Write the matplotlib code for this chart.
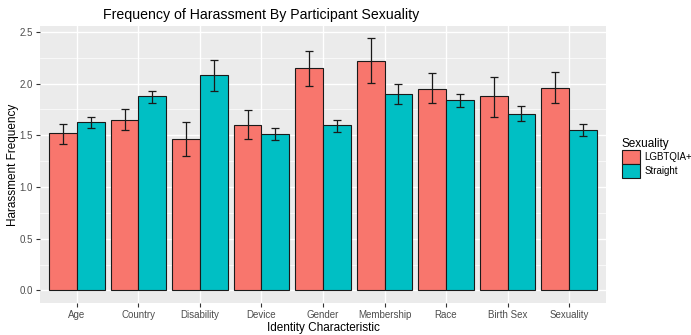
import matplotlib.pyplot as plt
import numpy as np

plt.rcParams['font.family'] = ['Liberation Sans', 'DejaVu Sans']

categories = ["Age", "Country", "Disability", "Device", "Gender",
              "Membership", "Race", "Birth Sex", "Sexuality"]
groups = ["LGBTQIA+", "Straight"]
colors = ["#F8766D", "#00BFC4"]

lgbt_mean = [1.52, 1.65, 1.46, 1.60, 2.15, 2.22, 1.95, 1.88, 1.96]
lgbt_lo = [1.415, 1.55, 1.30, 1.46, 1.98, 2.01, 1.81, 1.68, 1.81]
lgbt_hi = [1.61, 1.75, 1.63, 1.74, 2.32, 2.44, 2.10, 2.06, 2.11]

str_mean = [1.63, 1.88, 2.08, 1.51, 1.595, 1.90, 1.84, 1.71, 1.555]
str_lo = [1.57, 1.81, 1.93, 1.45, 1.53, 1.80, 1.77, 1.64, 1.49]
str_hi = [1.68, 1.93, 2.23, 1.57, 1.65, 2.00, 1.90, 1.78, 1.61]

W, H = 691, 335
fig = plt.figure(figsize=(W / 100, H / 100), dpi=100)
ax = fig.add_axes([40 / W, 1 - 303 / H, 566 / W, 277 / H])
ax.set_facecolor("#EBEBEB")

x = np.arange(1, len(categories) + 1)
w = 0.45
series = [(lgbt_mean, lgbt_lo, lgbt_hi), (str_mean, str_lo, str_hi)]
for i, (m, lo, hi) in enumerate(series):
    m = np.array(m)
    pos = x + (i - 0.5) * w
    ax.bar(pos, m, width=w, color=colors[i], edgecolor="#1a1a1a",
           linewidth=0.8, zorder=3, label=groups[i])
    yerr = [m - np.array(lo), np.array(hi) - m]
    ax.errorbar(pos, m, yerr=yerr, fmt="none", ecolor="#1a1a1a",
                elinewidth=0.9, capsize=2.8, capthick=0.9, zorder=4)

ax.set_xlim(0.4, 9.6)
ax.set_ylim(-0.122, 2.557)
ax.set_yticks([0, 0.5, 1.0, 1.5, 2.0, 2.5])
ax.set_yticklabels(["0.0", "0.5", "1.0", "1.5", "2.0", "2.5"])
ax.set_yticks([0.25, 0.75, 1.25, 1.75, 2.25], minor=True)
ax.set_xticks(x)
ax.set_xticklabels(categories)
ax.grid(which="major", color="white", linewidth=1.0, zorder=0)
ax.grid(which="minor", axis="y", color="white", linewidth=0.5, zorder=0)
ax.set_axisbelow(True)
for s in ax.spines.values():
    s.set_visible(False)
ax.tick_params(axis="both", which="major", colors="#333333", length=3,
               labelsize=7, labelcolor="#4D4D4D", width=0.8, pad=2)
ax.tick_params(axis="both", which="minor", length=0)

ax.set_xlabel("Identity Characteristic", fontsize=8.5, va="center")
ax.set_ylabel("Harassment Frequency", fontsize=8.5, va="center")
ax.xaxis.set_label_coords((323 - 40) / 566, -(328 - 303) / 277)
ax.yaxis.set_label_coords(-(40 - 13) / 566, 0.5)
fig.text(261 / W, 1 - 15 / H, "Frequency of Harassment By Participant Sexuality",
         ha="center", va="center", fontsize=10.2)

handles, labels = ax.get_legend_handles_labels()
leg = fig.legend(handles, labels, title="Sexuality", loc="upper left",
                 bbox_to_anchor=(622 / W, 1 - 138 / H), frameon=False,
                 fontsize=7, title_fontsize=8.5, handlelength=1.85,
                 handleheight=1.85, handletextpad=0.45, labelspacing=0.0,
                 borderaxespad=0, borderpad=0)
leg._legend_box.align = "left"

fig.savefig("out.png", dpi=100)
